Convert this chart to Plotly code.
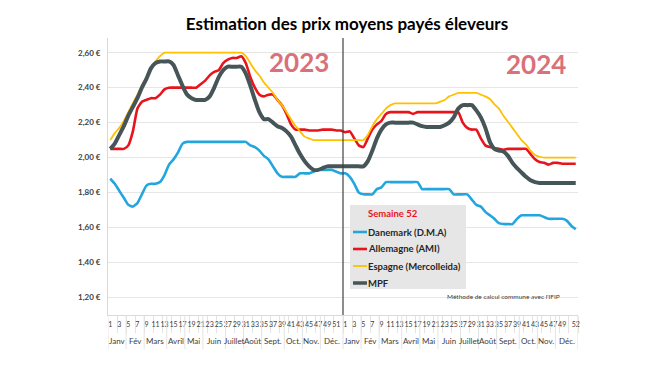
import plotly.graph_objects as go

# ---------------- data ----------------
weeks_2023 = list(range(1, 53))
weeks_2024 = list(range(1, 53))

months = ["Janv", "Fév", "Mars", "Avril", "Mai", "Juin", "Juillet", "Août",
          "Sept.", "Oct.", "Nov.", "Déc."]
month_first_week = [1, 5, 9, 14, 18, 22, 27, 31, 35, 40, 44, 48]

danemark_2023 = [1.88, 1.85, 1.81, 1.77, 1.73, 1.72, 1.74, 1.79, 1.84, 1.85, 1.85, 1.86, 1.90,
                 1.96, 1.99, 2.03, 2.08, 2.09, 2.09, 2.09, 2.09, 2.09, 2.09, 2.09, 2.09, 2.09,
                 2.09, 2.09, 2.09, 2.09, 2.09, 2.07, 2.06, 2.04, 2.01, 1.99, 1.95, 1.91, 1.89,
                 1.89, 1.89, 1.89, 1.91, 1.91, 1.91, 1.92, 1.93, 1.93, 1.93, 1.93, 1.92, 1.91]
danemark_2024 = [1.91, 1.89, 1.85, 1.80, 1.79, 1.79, 1.79, 1.82, 1.83, 1.86, 1.86, 1.86, 1.86,
                 1.86, 1.86, 1.86, 1.86, 1.82, 1.82, 1.82, 1.82, 1.82, 1.82, 1.82, 1.79, 1.79,
                 1.79, 1.79, 1.76, 1.73, 1.72, 1.69, 1.67, 1.65, 1.625, 1.62, 1.62, 1.62, 1.65,
                 1.67, 1.67, 1.67, 1.67, 1.67, 1.66, 1.65, 1.65, 1.65, 1.65, 1.64, 1.61, 1.59]

allemagne_2023 = [2.05, 2.05, 2.05, 2.05, 2.07, 2.15, 2.28, 2.32, 2.33, 2.34, 2.34, 2.36, 2.39,
                  2.40, 2.40, 2.40, 2.40, 2.40, 2.40, 2.40, 2.42, 2.44, 2.47, 2.49, 2.50, 2.54,
                  2.56, 2.57, 2.57, 2.58, 2.54, 2.46, 2.40, 2.36, 2.35, 2.36, 2.36, 2.33, 2.30,
                  2.25, 2.19, 2.16, 2.16, 2.16, 2.155, 2.155, 2.155, 2.16, 2.16, 2.16, 2.155, 2.155]
allemagne_2024 = [2.145, 2.15, 2.11, 2.07, 2.06, 2.11, 2.16, 2.19, 2.21, 2.25, 2.26, 2.26, 2.26,
                  2.26, 2.26, 2.25, 2.26, 2.26, 2.26, 2.26, 2.26, 2.26, 2.26, 2.26, 2.26, 2.26,
                  2.20, 2.17, 2.16, 2.16, 2.11, 2.07, 2.06, 2.055, 2.05, 2.045, 2.05, 2.05, 2.05,
                  2.05, 2.05, 2.02, 1.99, 1.975, 1.97, 1.96, 1.97, 1.97, 1.965, 1.965, 1.965, 1.965]

espagne_2023 = [2.10, 2.14, 2.17, 2.21, 2.26, 2.31, 2.36, 2.41, 2.46, 2.51, 2.55, 2.58, 2.60,
                2.60, 2.60, 2.60, 2.60, 2.60, 2.60, 2.60, 2.60, 2.60, 2.60, 2.60, 2.60, 2.60,
                2.60, 2.60, 2.60, 2.60, 2.58, 2.54, 2.50, 2.47, 2.43, 2.40, 2.37, 2.33, 2.30,
                2.26, 2.22, 2.18, 2.15, 2.12, 2.11, 2.10, 2.10, 2.10, 2.10, 2.10, 2.10, 2.10]
espagne_2024 = [2.10, 2.10, 2.10, 2.10, 2.10, 2.13, 2.18, 2.22, 2.25, 2.28, 2.30, 2.31, 2.31,
                2.31, 2.31, 2.31, 2.31, 2.31, 2.31, 2.31, 2.31, 2.32, 2.33, 2.35, 2.36, 2.37,
                2.37, 2.37, 2.37, 2.37, 2.36, 2.35, 2.335, 2.305, 2.28, 2.24, 2.205, 2.17, 2.135,
                2.10, 2.075, 2.04, 2.015, 2.005, 2.00, 2.00, 2.00, 2.00, 2.00, 2.00, 2.00, 2.00]

mpf_2023 = [2.05, 2.08, 2.13, 2.18, 2.24, 2.29, 2.34, 2.40, 2.45, 2.51, 2.54, 2.55, 2.55,
            2.55, 2.53, 2.47, 2.41, 2.36, 2.34, 2.33, 2.33, 2.33, 2.35, 2.40, 2.46, 2.50,
            2.52, 2.52, 2.52, 2.52, 2.48, 2.41, 2.33, 2.26, 2.22, 2.22, 2.20, 2.18, 2.17,
            2.15, 2.12, 2.07, 2.02, 1.98, 1.95, 1.93, 1.93, 1.94, 1.95, 1.95, 1.95, 1.95]
mpf_2024 = [1.95, 1.95, 1.95, 1.95, 1.95, 1.98, 2.04, 2.11, 2.16, 2.19, 2.20, 2.20, 2.20,
            2.20, 2.20, 2.20, 2.19, 2.18, 2.175, 2.175, 2.175, 2.175, 2.185, 2.20, 2.23, 2.28,
            2.30, 2.30, 2.30, 2.27, 2.23, 2.17, 2.09, 2.05, 2.04, 2.035, 2.01, 1.97, 1.94,
            1.915, 1.89, 1.87, 1.86, 1.855, 1.855, 1.855, 1.855, 1.855, 1.855, 1.855, 1.855, 1.855]

y_ticks = [1.20, 1.40, 1.60, 1.80, 2.00, 2.20, 2.40, 2.60]
y_bottom_label = 1.00

series_names = ["Danemark (D.M.A)", "Allemagne (AMI)", "Espagne (Mercolleida)", "MPF"]
series_values = [danemark_2023 + danemark_2024, allemagne_2023 + allemagne_2024,
                 espagne_2023 + espagne_2024, mpf_2023 + mpf_2024]
series_colors = ["#22a6de", "#e8141c", "#ffc000", "#465558"]
series_widths = [2.6, 2.6, 1.8, 4.0]

# ---------------- layout geometry (pixels) ----------------
W, H = 650, 366
L, R, T, B = 108, 578, 38, 315          # plot area edges
PW, PH = R - L, B - T


def px(x):
    return (x - L) / PW


def py(y):
    return (B - y) / PH


FONT = "Lato"

# ---------------- build ----------------
all_weeks = weeks_2023 + weeks_2024
idx = list(range(len(all_weeks)))
n23 = len(weeks_2023)

fig = go.Figure()
for name, vals, color, width in zip(series_names, series_values, series_colors, series_widths):
    fig.add_trace(go.Scatter(
        x=idx, y=vals, name=name, mode="lines", showlegend=False,
        line=dict(color=color, width=width, shape="spline", smoothing=0.5),
        hoverinfo="skip"))

# week labels: odd weeks (last label of 2024 is week 52)
tick_idx, tick_txt = [], []
for i, w in enumerate(all_weeks):
    last = i == len(all_weeks) - 1
    if (w % 2 == 1 and not (i >= n23 and w == 51)) or last:
        tick_idx.append(i)
        tick_txt.append(str(w))
sep_vals = [i + 1 for i, w in enumerate(all_weeks) if w % 2 == 1 and i + 1 < len(all_weeks)]

shapes = []
annotations = []

# month labels and separators
for offset in (0, n23):
    for k, m in enumerate(months):
        start = month_first_week[k]
        end = month_first_week[k + 1] - 1 if k + 1 < len(months) else 52
        centre = offset + (start + end) / 2 - 1
        annotations.append(dict(x=centre, y=py(341), xref="x", yref="paper", text=m,
                                showarrow=False, xanchor="center", yanchor="middle",
                                font=dict(family=FONT, size=8, color="#404040")))
        shapes.append(dict(type="line", xref="x", yref="paper",
                           x0=offset + start - 1.5, x1=offset + start - 1.5,
                           y0=0, y1=py(349), line=dict(color="#e3e3e3", width=1)))
shapes.append(dict(type="line", xref="x", yref="paper", x0=len(idx) - 0.5, x1=len(idx) - 0.5,
                   y0=0, y1=py(349), line=dict(color="#e3e3e3", width=1)))

# year separator
shapes.append(dict(type="line", xref="x", yref="paper", x0=n23 - 0.5, x1=n23 - 0.5,
                   y0=0, y1=1, line=dict(color="#404040", width=1.2)))

# custom legend box
shapes.append(dict(type="rect", xref="paper", yref="paper", x0=px(350), x1=px(466),
                   y0=py(289), y1=py(205), fillcolor="#e7e6e6", line=dict(width=0),
                   layer="above"))
annotations.append(dict(x=px(365.5), y=py(214), xref="paper", yref="paper",
                        text="<b>Semaine 52</b>", showarrow=False, xanchor="left",
                        yanchor="middle", font=dict(family=FONT, size=9.5, color="#e8141c")))
row_y = [232, 249, 266, 283]
for name, color, width, ry in zip(series_names, series_colors, series_widths, row_y):
    shapes.append(dict(type="line", xref="paper", yref="paper", x0=px(353), x1=px(367),
                       y0=py(ry), y1=py(ry), line=dict(color=color, width=min(width, 3.5)),
                       layer="above"))
    annotations.append(dict(x=px(365.5), y=py(ry), xref="paper", yref="paper",
                            text="<b>" + name + "</b>", showarrow=False, xanchor="left",
                            yanchor="middle",
                            font=dict(family=FONT, size=9.5, color="#262626")))

annotations += [
    dict(x=px(299), y=py(62), xref="paper", yref="paper", text="<b>2023</b>", showarrow=False,
         xanchor="center", yanchor="middle",
         font=dict(family=FONT, size=26, color="#d9707a")),
    dict(x=px(536), y=py(64), xref="paper", yref="paper", text="<b>2024</b>", showarrow=False,
         xanchor="center", yanchor="middle",
         font=dict(family=FONT, size=26, color="#d9707a")),
    dict(x=px(503), y=py(296), xref="paper", yref="paper",
         text="Méthode de calcul commune avec l'IFIP", showarrow=False,
         xanchor="center", yanchor="middle",
         font=dict(family=FONT, size=6.5, color="#404040")),
    dict(x=0, y=y_bottom_label, xref="paper", yref="y", xanchor="right", yanchor="middle",
         xshift=-5,
         text="<b>" + f"{y_bottom_label:.2f}".replace(".", ",") + " €</b>", showarrow=False,
         font=dict(family=FONT, size=8, color="#404040")),
]

fig.update_layout(
    width=W, height=H,
    margin=dict(l=L, r=W - R, t=T, b=H - B),
    paper_bgcolor="white", plot_bgcolor="white",
    title=dict(text="<b>Estimation des prix moyens payés éleveurs</b>",
               x=347 / W, y=(H - 24) / H, xanchor="center", yanchor="middle",
               font=dict(family=FONT, size=17, color="black")),
    xaxis=dict(range=[-0.5, len(idx) - 0.5], tickmode="array", tickvals=tick_idx,
               ticktext=tick_txt, tickangle=0, ticks="", showgrid=False, zeroline=False,
               automargin=False,
               showline=True, linecolor="#d9d9d9", linewidth=1,
               tickfont=dict(family=FONT, size=7, color="#404040"),
               ticklabelstandoff=3,
               minor=dict(tickmode="array", tickvals=[v + 0.5 for v in sep_vals], ticks="outside",
                          ticklen=17, tickcolor="#e3e3e3", tickwidth=1, showgrid=False)),
    yaxis=dict(range=[1.10, 2.684], tickmode="array", tickvals=y_ticks,
               ticktext=["<b>" + f"{v:.2f}".replace(".", ",") + " €</b>" for v in y_ticks],
               showgrid=True, gridcolor="#e6e6e6", gridwidth=1, zeroline=False,
               automargin=False,
               showline=True, linecolor="#d9d9d9", ticks="", ticklabelstandoff=5,
               tickfont=dict(family=FONT, size=8, color="#404040")),
    showlegend=False,
    shapes=shapes,
    annotations=annotations,
)

fig.write_html("out.html", config={"displayModeBar": False},
               post_script="document.body.style.margin='0';")
